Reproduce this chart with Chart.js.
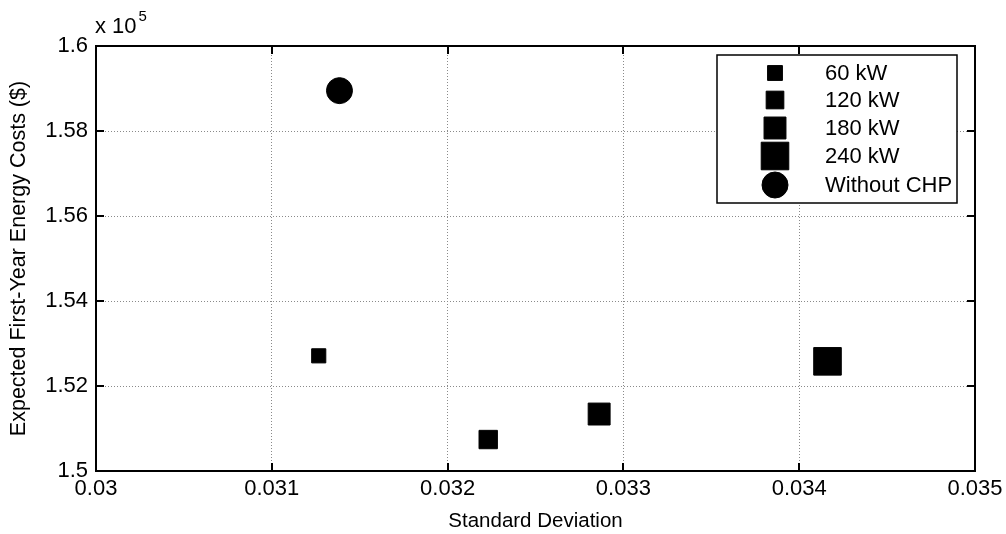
<!DOCTYPE html>
<html>
<head>
<meta charset="utf-8">
<script src="https://cdn.jsdelivr.net/npm/chart.js@4"></script>
<style>
  html, body { margin: 0; padding: 0; background: #fff; }
  #wrap { width: 1006px; height: 534px; position: relative; }
</style>
</head>
<body>
<div id="wrap"><canvas id="chart"></canvas></div>
<script>
// values
const seriesLabels = ['60 kW', '120 kW', '180 kW', '240 kW', 'Without CHP'];
const stdDev = [0.031267, 0.032231, 0.032862, 0.034161, 0.031385];
const expectedCost = [152710, 150740, 151340, 152580, 158950];
const xTicks = [0.03, 0.031, 0.032, 0.033, 0.034, 0.035];
const yTicks = [150000, 152000, 154000, 156000, 158000, 160000];

const FONT = 'Liberation Sans, Arial, sans-serif';
const markerStyles = ['rect', 'rect', 'rect', 'rect', 'circle'];
const markerRadius = [10, 13, 15.5, 19.5, 13];

const datasets = seriesLabels.map((lbl, i) => ({
  label: lbl,
  data: [{ x: stdDev[i], y: expectedCost[i] }],
  pointStyle: markerStyles[i],
  pointRadius: markerRadius[i],
  pointHoverRadius: markerRadius[i],
  backgroundColor: '#000',
  borderColor: '#000',
  borderWidth: 1
}));

// frame, inward ticks, exponent label and legend box
const framePlugin = {
  id: 'frame',
  afterDraw(chart) {
    const { ctx, chartArea: a, scales } = chart;
    ctx.save();
    ctx.strokeStyle = '#000';
    ctx.lineWidth = 2;
    ctx.strokeRect(a.left, a.top, a.right - a.left, a.bottom - a.top);
    ctx.beginPath();
    xTicks.forEach(v => {
      const px = Math.round(scales.x.getPixelForValue(v));
      ctx.moveTo(px, a.bottom); ctx.lineTo(px, a.bottom - 8);
      ctx.moveTo(px, a.top); ctx.lineTo(px, a.top + 8);
    });
    yTicks.forEach(v => {
      const py = Math.round(scales.y.getPixelForValue(v));
      ctx.moveTo(a.left, py); ctx.lineTo(a.left + 8, py);
      ctx.moveTo(a.right, py); ctx.lineTo(a.right - 8, py);
    });
    ctx.stroke();

    // x 10^5
    ctx.fillStyle = '#000';
    ctx.textBaseline = 'alphabetic';
    ctx.textAlign = 'left';
    ctx.font = '22px ' + FONT;
    ctx.fillText('x 10', a.left - 1, a.top - 13);
    const w = ctx.measureText('x 10').width;
    ctx.font = '15px ' + FONT;
    ctx.fillText('5', a.left + w + 1, a.top - 25);

    // legend
    const lx = 717, ly = 55, lw = 240, lh = 148;
    ctx.fillStyle = '#fff';
    ctx.fillRect(lx, ly, lw, lh);
    ctx.lineWidth = 1.5;
    ctx.strokeRect(lx, ly, lw, lh);
    const rowY = [73, 100, 128, 156, 185];
    const legendR = [10.5, 12.5, 15.5, 19.5, 13];
    ctx.font = '22px ' + FONT;
    ctx.textBaseline = 'middle';
    chart.data.datasets.forEach((ds, i) => {
      ctx.fillStyle = '#000';
      ctx.strokeStyle = '#000';
      ctx.lineWidth = 1;
      Chart.helpers.drawPoint(ctx, { pointStyle: ds.pointStyle, radius: legendR[i], rotation: 0, borderWidth: 1 }, 775, rowY[i]);
      ctx.fillText(ds.label, 825, rowY[i] + 1);
    });
    ctx.restore();
  }
};

new Chart(document.getElementById('chart'), {
  type: 'scatter',
  data: { datasets },
  options: {
    responsive: true,
    maintainAspectRatio: false,
    animation: false,
    layout: { padding: { top: 46, right: 31, left: 0, bottom: 0 } },
    plugins: { legend: { display: false }, tooltip: { enabled: false } },
    scales: {
      x: {
        type: 'linear',
        min: 0.03, max: 0.035,
        afterBuildTicks: s => { s.ticks = xTicks.map(v => ({ value: v })); },
        afterFit: s => { s.height = 63; s.paddingRight = 0; s.paddingLeft = 0; },
        border: { display: false, dash: [1, 2] },
        grid: { color: '#8a8a8a', lineWidth: 1, drawTicks: false },
        ticks: {
          color: '#000', padding: 5,
          font: { family: FONT, size: 22 },
          callback: v => parseFloat(v.toFixed(3)).toString()
        },
        title: {
          display: true, text: 'Standard Deviation', color: '#000',
          font: { family: FONT, size: 20.5 }, padding: { top: 0, bottom: 0 }
        }
      },
      y: {
        type: 'linear',
        min: 150000, max: 160000,
        afterBuildTicks: s => { s.ticks = yTicks.map(v => ({ value: v })); },
        afterFit: s => { s.width = 96; s.paddingTop = 0; s.paddingBottom = 0; },
        border: { display: false, dash: [1, 2] },
        grid: { color: '#8a8a8a', lineWidth: 1, drawTicks: false },
        ticks: {
          color: '#000', padding: 8,
          font: { family: FONT, size: 22 },
          callback: v => parseFloat((v / 1e5).toFixed(2)).toString()
        },
        title: {
          display: true, text: 'Expected First-Year Energy Costs ($)', color: '#000',
          font: { family: FONT, size: 21.5 }, padding: { top: 6, bottom: 0 }
        }
      }
    }
  },
  plugins: [framePlugin]
});
</script>
</body>
</html>
